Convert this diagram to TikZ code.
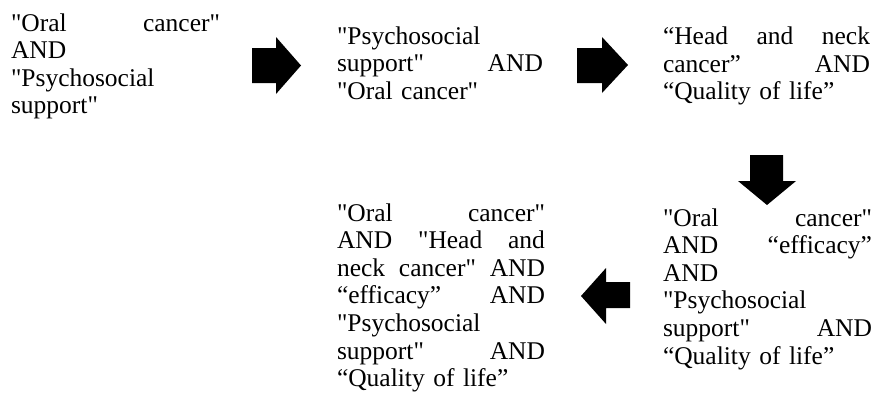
\documentclass[tikz,border=0pt]{standalone}
\usepackage{fontspec}
\setmainfont{Liberation Serif}[Ligatures=TeXOff]
\begin{document}
\begin{tikzpicture}[x=1pt,y=-1pt,
  blk/.style={anchor=base west,inner sep=0pt,outer sep=0pt,align=left,
    font=\fontsize{25.5}{27.6}\selectfont},
  blockarrow/.style={fill=black,draw=none}]
\useasboundingbox (0,0) rectangle (874,394);
\newcommand{\jl}[2]{\leavevmode\hbox to #1pt{#2}}
% block 1
\node[blk,text width=209pt] (b1) at (11,31) {\jl{209}{"Oral\hfill cancer"}\\AND\\"Psychosocial\\support"};
% block 2
\node[blk,text width=206pt] (b2) at (337,44) {"Psychosocial\\\jl{206}{support"\hfill AND}\\"Oral cancer"};
% block 3
\node[blk,text width=207pt] (b3) at (663,44.5) {\jl{207}{“Head\hfill and\hfill neck}\\\jl{207}{cancer”\hfill AND}\\“Quality of life”};
% block 4
\node[blk,text width=209pt] (b4) at (663,226) {\jl{209}{"Oral\hfill cancer"}\\\jl{209}{AND\hfill “efficacy”}\\AND\\"Psychosocial\\\jl{209}{support"\hfill AND}\\“Quality of life”};
% block 5
\node[blk,text width=208pt] (b5) at (337,221) {\jl{208}{"Oral\hfill cancer"}\\\jl{208}{AND\hfill "Head\hfill and}\\\jl{208}{neck\hfill cancer"\hfill AND}\\\jl{208}{“efficacy”\hfill AND}\\"Psychosocial\\\jl{208}{support"\hfill AND}\\“Quality of life”};
% arrows
\fill[blockarrow] (252,48) -- (276,48) -- (276,37) -- (301,65.5) -- (276,94) -- (276,83) -- (252,83) -- cycle;
\fill[blockarrow] (577,48) -- (602,48) -- (602,37) -- (628,65) -- (602,93) -- (602,83) -- (577,83) -- cycle;
\fill[blockarrow] (750,155) -- (783,155) -- (783,181) -- (796,181) -- (767,205) -- (738,181) -- (750,181) -- cycle;
\fill[blockarrow] (630,282) -- (606,282) -- (606,268) -- (581,296) -- (606,324) -- (606,308) -- (630,308) -- cycle;
\end{tikzpicture}
\end{document}
